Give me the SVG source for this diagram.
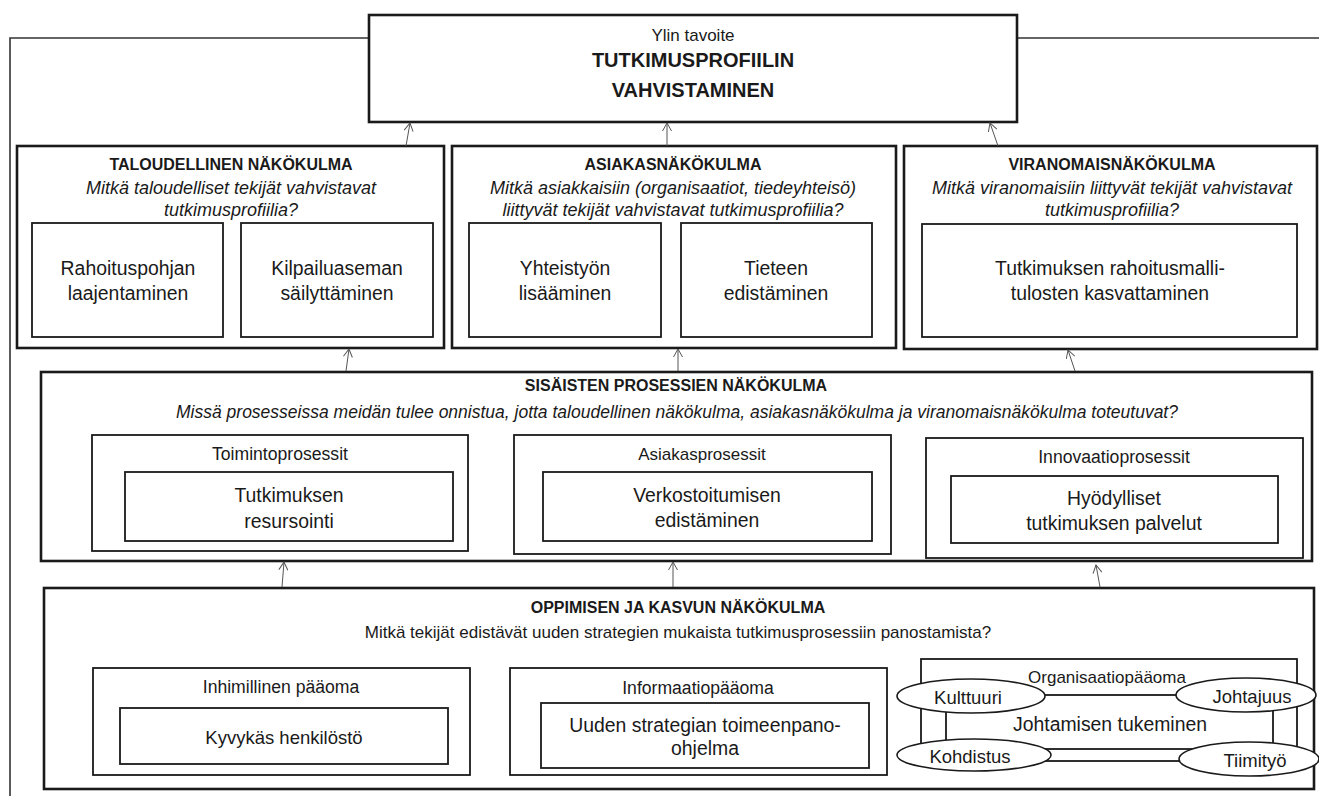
<svg xmlns="http://www.w3.org/2000/svg" width="1319" height="796" viewBox="0 0 1319 796">
<style>
text{font-family:"Liberation Sans",Arial,sans-serif;fill:#1a1a1a;text-anchor:middle;dominant-baseline:central}
.b{font-weight:bold;font-size:16px}
.i{font-style:italic;font-size:18px}
.il{font-style:italic;font-size:17.5px}
.t{font-size:17px}
.l{font-size:17.6px}
.n{font-size:19.4px}
.e{font-size:18.5px}
.big{font-weight:bold;font-size:20px}
.main{fill:#fff;stroke:#1a1a1a;stroke-width:2.6}
.sub{fill:#fff;stroke:#1a1a1a;stroke-width:1.8}
.el{fill:#fff;stroke:#1a1a1a;stroke-width:1.6}
.frame{fill:none;stroke:#333;stroke-width:1.6}
.con{stroke:#555;stroke-width:1;fill:none}
</style>
<defs>
<marker id="ah" markerWidth="10" markerHeight="10" refX="9" refY="5" orient="auto" markerUnits="userSpaceOnUse">
<path d="M1,0.5 L9,5 L1,9.5" fill="none" stroke="#555" stroke-width="1"/>
</marker>
</defs>
<rect width="1319" height="796" fill="#fff"/>
<path class="frame" d="M369,38 H10 V796 M1017,38 H1319"/>

<g id="goal">
<rect class="main" x="369" y="15" width="648" height="107"/>
<text class="t" x="693" y="35">Ylin tavoite</text>
<text class="big" x="693" y="60">TUTKIMUSPROFIILIN</text>
<text class="big" x="693" y="90">VAHVISTAMINEN</text>
</g>

<g id="taloudellinen">
<rect class="main" x="17" y="146" width="427" height="202"/>
<text class="b" x="231" y="164">TALOUDELLINEN NÄKÖKULMA</text>
<text class="i" x="231" y="188">Mitkä taloudelliset tekijät vahvistavat</text>
<text class="i" x="231" y="210">tutkimusprofiilia?</text>
<g id="rahoituspohjan">
<rect class="sub" x="32" y="223" width="191" height="114"/>
<text class="n" x="128" y="268">Rahoituspohjan</text>
<text class="n" x="128" y="293">laajentaminen</text>
</g>
<g id="kilpailuaseman">
<rect class="sub" x="241" y="223" width="192" height="114"/>
<text class="n" x="337" y="268">Kilpailuaseman</text>
<text class="n" x="337" y="293">säilyttäminen</text>
</g>
</g>

<g id="asiakas">
<rect class="main" x="452" y="146" width="444" height="202"/>
<text class="b" x="673" y="164">ASIAKASNÄKÖKULMA</text>
<text class="i" x="673" y="188">Mitkä asiakkaisiin (organisaatiot, tiedeyhteisö)</text>
<text class="i" x="673" y="210">liittyvät tekijät vahvistavat tutkimusprofiilia?</text>
<g id="yhteistyon">
<rect class="sub" x="469" y="223" width="192" height="114"/>
<text class="n" x="565" y="268">Yhteistyön</text>
<text class="n" x="565" y="293">lisääminen</text>
</g>
<g id="tieteen">
<rect class="sub" x="681" y="223" width="191" height="114"/>
<text class="n" x="776" y="268">Tieteen</text>
<text class="n" x="776" y="293">edistäminen</text>
</g>
</g>

<g id="viranomais">
<rect class="main" x="904" y="146" width="413" height="203"/>
<text class="b" x="1112" y="164">VIRANOMAISNÄKÖKULMA</text>
<text class="i" x="1112" y="188">Mitkä viranomaisiin liittyvät tekijät vahvistavat</text>
<text class="i" x="1112" y="210">tutkimusprofiilia?</text>
<g id="rahoitusmalli">
<rect class="sub" x="922" y="224" width="375" height="113"/>
<text class="n" x="1110" y="268">Tutkimuksen rahoitusmalli-</text>
<text class="n" x="1110" y="293">tulosten kasvattaminen</text>
</g>
</g>

<g id="prosessit">
<rect class="main" x="41" y="372" width="1271" height="189"/>
<text class="b" x="676" y="385">SISÄISTEN PROSESSIEN NÄKÖKULMA</text>
<text class="il" x="677" y="412">Missä prosesseissa meidän tulee onnistua, jotta taloudellinen näkökulma, asiakasnäkökulma ja viranomaisnäkökulma toteutuvat?</text>
<g id="toimintoprosessit">
<rect class="sub" x="92" y="435" width="376" height="116"/>
<text class="l" x="280" y="454">Toimintoprosessit</text>
<rect class="sub" x="125" y="472" width="328" height="69"/>
<text class="n" x="289" y="495">Tutkimuksen</text>
<text class="n" x="289" y="521">resursointi</text>
</g>
<g id="asiakasprosessit">
<rect class="sub" x="514" y="435" width="377" height="119"/>
<text class="t" x="702" y="454">Asiakasprosessit</text>
<rect class="sub" x="543" y="472" width="329" height="69"/>
<text class="n" x="707" y="495">Verkostoitumisen</text>
<text class="n" x="707" y="520">edistäminen</text>
</g>
<g id="innovaatioprosessit">
<rect class="sub" x="926" y="438" width="377" height="120"/>
<text class="l" x="1114" y="457">Innovaatioprosessit</text>
<rect class="sub" x="951" y="476" width="327" height="67"/>
<text class="n" x="1114" y="498">Hyödylliset</text>
<text class="n" x="1114" y="523">tutkimuksen palvelut</text>
</g>
</g>

<g id="oppiminen">
<rect class="main" x="44" y="588" width="1270" height="201"/>
<text class="b" x="678" y="607">OPPIMISEN JA KASVUN NÄKÖKULMA</text>
<text class="t" x="678" y="632">Mitkä tekijät edistävät uuden strategien mukaista tutkimusprosessiin panostamista?</text>
<g id="inhimillinen">
<rect class="sub" x="93" y="668" width="377" height="107"/>
<text class="l" x="281" y="687">Inhimillinen pääoma</text>
<rect class="sub" x="120" y="708" width="328" height="56"/>
<text class="e" x="284" y="737">Kyvykäs henkilöstö</text>
</g>
<g id="informaatio">
<rect class="sub" x="510" y="668" width="377" height="107"/>
<text class="l" x="698" y="688">Informaatiopääoma</text>
<rect class="sub" x="541" y="703" width="328" height="65"/>
<text class="n" x="705" y="725">Uuden strategian toimeenpano-</text>
<text class="n" x="705" y="748">ohjelma</text>
</g>
<g id="organisaatio">
<rect class="sub" x="921" y="659" width="376" height="102"/>
<rect class="sub" x="946" y="695" width="327" height="54"/>
<text class="t" x="1107" y="677">Organisaatiopääoma</text>
<text class="n" x="1110" y="724">Johtamisen tukeminen</text>
<g id="kulttuuri"><ellipse class="el" cx="971" cy="696" rx="74" ry="17"/><text class="e" x="968" y="697">Kulttuuri</text></g>
<g id="johtajuus"><ellipse class="el" cx="1246" cy="695" rx="70" ry="17"/><text class="e" x="1252" y="696">Johtajuus</text></g>
<g id="kohdistus"><ellipse class="el" cx="974" cy="755" rx="77" ry="16"/><text class="e" x="970" y="756">Kohdistus</text></g>
<g id="tiimityo"><ellipse class="el" cx="1249" cy="759" rx="70" ry="17"/><text class="e" x="1255" y="760">Tiimityö</text></g>
</g>
</g>

<g id="connectors">
<line class="con" x1="406" y1="146" x2="410" y2="123" marker-end="url(#ah)"/>
<line class="con" x1="667" y1="146" x2="667" y2="123" marker-end="url(#ah)"/>
<line class="con" x1="998" y1="146" x2="990" y2="123" marker-end="url(#ah)"/>
<line class="con" x1="346" y1="371" x2="349" y2="349" marker-end="url(#ah)"/>
<line class="con" x1="678" y1="371" x2="678" y2="349" marker-end="url(#ah)"/>
<line class="con" x1="1075" y1="371" x2="1068" y2="350" marker-end="url(#ah)"/>
<line class="con" x1="282" y1="587" x2="284" y2="562" marker-end="url(#ah)"/>
<line class="con" x1="673" y1="587" x2="673" y2="562" marker-end="url(#ah)"/>
<line class="con" x1="1100" y1="587" x2="1096" y2="565" marker-end="url(#ah)"/>
</g>
</svg>
